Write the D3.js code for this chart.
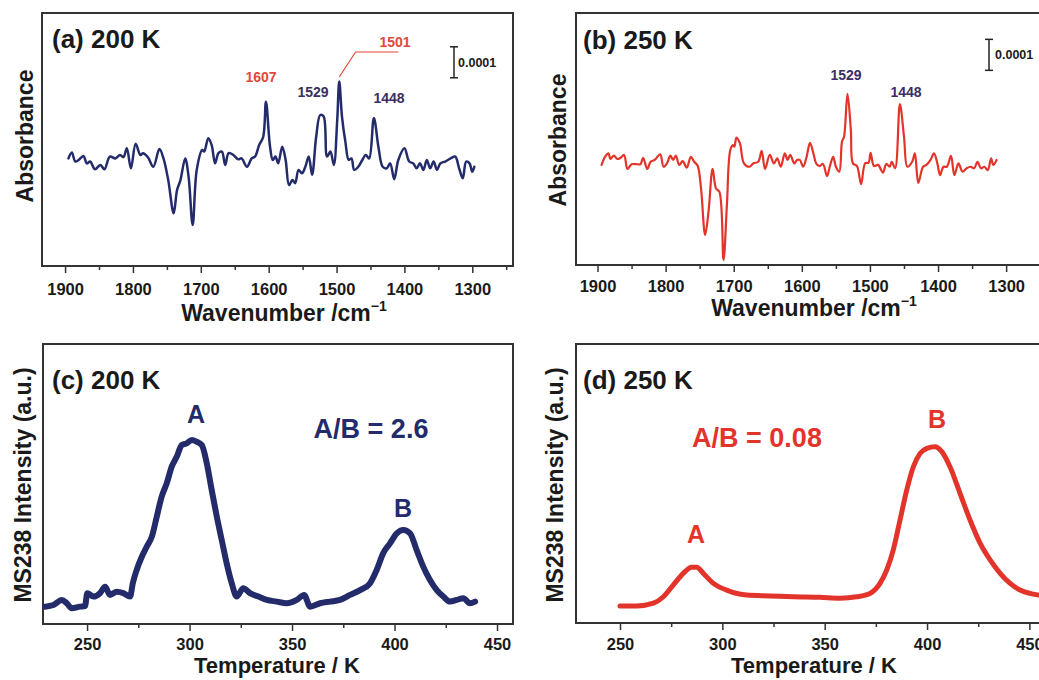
<!DOCTYPE html>
<html>
<head>
<meta charset="utf-8">
<title>IR / TPD</title>
<script src="https://d3js.org/d3.v7.min.js"></script>
<style>
  body { margin: 0; background: #fff; }
  text { font-family: "Liberation Sans", Arial, sans-serif; font-weight: bold; }
</style>
</head>
<body>
<script>
// IR difference spectra, absorbance in units of 1e-4 (baseline = 0)
var wnA = [1895,1890,1885,1880,1873,1868,1863,1856,1848,1842,1834,1826,1819,1814,1809,1803,1796,1789,1785,1778,
  1770,1761,1755,1748,1740,1735,1730,1723,1718,1712,1706,1698,1695,1689,1684,1679,1674,1669,1664,1659,
  1652,1645,1640,1632,1625,1620,1614,1608,1604,1598,1594,1590,1586,1580,1575,1570,1565,1561,1556,1551,
  1546,1541,1536,1530,1524,1519,1514,1509,1504,1499,1496,1492,1487,1482,1478,1474,1468,1462,1457,1452,
  1445,1438,1432,1426,1421,1415,1409,1400,1393,1387,1382,1377,1372,1367,1362,1357,1352,1347,1340,1332,
  1325,1320,1314,1309,1304,1300,1297];
var absA = [0.05,0.24,-0.05,0,0.13,-0.11,-0.05,-0.30,-0.16,-0.30,0.11,0.05,0.16,0.09,0.38,-0.27,0.52,0.16,0.22,0.09,
  -0.22,0.35,0.05,-0.65,-1.72,-0.97,-0.65,0.05,-0.54,-2.10,-0.32,0.32,0.27,0.70,0.48,-0.11,0.22,0.27,-0.16,0.22,
  0.16,0.02,0.05,-0.22,0.05,0.11,0.48,0.75,1.88,0.43,0,0.11,-0.11,0.43,0,-0.81,-0.65,-0.75,-0.32,-0.43,
  -0.22,0.11,-0.48,0.75,1.45,1.40,0.11,0.27,-0.16,1.29,2.53,1.40,0.59,0,0.05,-0.32,-0.22,0,0.16,0.05,
  1.35,0.38,-0.22,-0.27,-0.11,-0.62,0,0.38,-0.05,-0.11,-0.27,-0.11,-0.32,0,-0.27,-0.05,-0.32,-0.11,-0.05,0.05,
  0.11,-0.22,-0.59,-0.05,-0.11,-0.38,-0.22];

var wnB = [1894,1889,1884,1881,1876,1871,1866,1861,1856,1850,1842,1837,1833,1827,1822,1816,1808,1803,1798,1793,
  1789,1785,1780,1775,1769,1763,1758,1753,1748,1742,1737,1731,1726,1721,1715,1710,1705,1701,1699,1696,
  1691,1685,1677,1671,1664,1659,1654,1647,1641,1636,1631,1625,1621,1617,1611,1607,1603,1598,1593,1588,
  1583,1579,1574,1569,1563,1559,1554,1550,1545,1541,1538,1533,1528,1525,1519,1513,1507,1502,1499,1494,
  1488,1481,1476,1471,1468,1463,1456,1450,1445,1438,1434,1429,1422,1417,1411,1406,1401,1397,1392,1387,
  1381,1376,1370,1364,1358,1352,1347,1342,1337,1332,1327,1322,1319,1314];
var absB = [-0.06,0.20,0.31,0.13,0.24,0.13,0.17,0.26,-0.19,-0.04,-0.04,-0.04,0.17,-0.19,0.04,0.10,0.28,-0.12,-0.01,0.24,
  0.10,0.24,-0.06,0.06,-0.15,0.20,0.04,-0.09,-0.82,-2.32,-1.57,-0.19,-0.82,-0.93,-3.13,-1.35,0.42,0.58,0.53,0.82,
  0.64,-0.01,-0.12,-0.01,0.04,0.39,-0.19,0.26,-0.01,0.15,-0.12,0.31,0.10,0.26,-0.01,0.10,0.10,-0.12,0.20,0.65,
  0.31,-0.01,-0.10,-0.03,-0.42,-0.12,0.20,-0.12,-0.28,0.69,0.85,2.23,1.06,-0.01,-0.10,-0.68,-0.01,0.01,0.33,-0.10,
  -0.06,-0.31,-0.03,-0.12,0.04,-0.17,1.90,0.85,-0.12,0.04,0.31,-0.64,-0.12,-0.06,0.10,0.31,-0.01,-0.39,-0.12,-0.12,
  0.23,-0.39,-0.01,-0.28,-0.17,-0.12,-0.17,0.04,-0.17,-0.12,-0.23,0.15,-0.06,0.10];

// TPD traces, MS238 intensity (a.u.)
var tempC = [229.5,233.6,237.7,240.1,242.5,246.6,249.0,250.1,253.1,256.3,258.8,261.2,264.5,267.7,271.0,272.3,274.2,276.7,279.1,281.6,
  284.0,286.4,288.9,291.3,293.8,296.2,298.6,301.1,303.5,306.0,308.4,310.8,313.3,315.7,318.1,320.6,323.0,326.2,329.5,333.6,
  337.7,342.5,347.4,352.3,355.9,358.8,363.7,368.5,373.4,378.3,383.2,388.0,391.3,394.5,397.8,401.1,404.3,407.6,410.8,414.0,
  417.3,420.6,423.8,427.1,430.3,433.6,436.8,439.3];
var msC = [6.2,6.8,8.6,7.4,5.6,6.2,6.4,11.0,9.8,11.0,13.3,10.4,11.5,11.0,9.8,14.5,19.3,24.0,27.6,31.2,
  38.3,45.5,50.3,56.2,59.8,63.9,64.5,65.7,65.1,63.9,57.4,47.9,38.3,30.0,21.7,14.5,9.8,12.8,11.0,9.8,
  8.6,8.0,7.4,8.6,10.4,6.2,7.4,8.0,8.6,10.4,12.1,14.5,19.3,25.3,28.8,32.4,33.6,32.4,26.4,20.5,
  15.7,12.1,9.8,8.0,8.6,9.2,7.4,8.0];

var tempD = [250.0,258.2,266.3,271.2,276.0,280.9,285.0,287.5,290.7,295.6,302.1,311.9,323.3,334.7,347.7,357.5,365.6,372.1,377.0,380.3,
  383.5,386.8,390.1,393.3,396.6,399.9,403.9,407.2,411.2,416.1,421.0,425.9,430.8,435.7,440.6,445.4,450.3,454.7,458.5];
var msD = [6.1,6.1,7.1,9.4,13.6,17.8,20.0,20.0,17.8,14.2,11.8,10.0,9.7,9.4,9.2,8.9,9.4,10.6,14.2,19.0,
  26.2,36.9,47.7,56.0,60.8,62.6,63.2,61.4,56.0,46.5,36.9,28.6,22.6,17.8,14.2,11.8,10.6,10.0,9.6];

var irTicks = [1900,1800,1700,1600,1500,1400,1300];
var irMinor = [1850,1750,1650,1550,1450,1350,1250];
var tpdTicks = [250,300,350,400,450];
var tpdMinor = [275,325,375,425];

var navy = "#232b6b", red = "#e3342b", purple = "#3b2e63", redLbl = "#e0483b";

var svg = d3.select("body").append("svg").attr("width", 1039).attr("height", 680);

function panel(p) {
  var x = d3.scaleLinear().domain(p.xDomain).range([p.left, p.right]);
  var y = d3.scaleLinear().domain(p.yDomain).range([p.bottom, p.top]);
  var g = svg.append("g");

  g.append("g").attr("transform", "translate(0," + p.bottom + ")")
    .call(d3.axisBottom(x).tickValues(p.minor).tickSize(4).tickFormat(""))
    .call(function (a) { a.select(".domain").remove(); a.selectAll("line").attr("stroke", "#333").attr("stroke-width", 1.5); });

  var ax = g.append("g").attr("transform", "translate(0," + p.bottom + ")")
    .call(d3.axisBottom(x).tickValues(p.ticks).tickSize(7).tickFormat(d3.format("d")));
  ax.select(".domain").remove();
  ax.selectAll("line").attr("stroke", "#333").attr("stroke-width", 1.5);
  ax.selectAll("text").attr("y", p.tickY).attr("dy", 0)
    .attr("font-size", 16.5).attr("fill", "#1a1a1a")
    .style("font-family", "'Liberation Sans', Arial, sans-serif").style("font-weight", "bold");

  g.append("rect").attr("x", p.left).attr("y", p.top)
    .attr("width", p.right - p.left).attr("height", p.bottom - p.top)
    .attr("fill", "none").attr("stroke", "#333").attr("stroke-width", 2);

  var line = d3.line().x(function (d) { return x(d[0]); }).y(function (d) { return y(d[1]); })
    .curve(p.curve);
  g.append("path").datum(d3.zip(p.xs, p.ys)).attr("d", line)
    .attr("fill", "none").attr("stroke", p.color).attr("stroke-width", p.width)
    .attr("stroke-linejoin", "round").attr("stroke-linecap", "round");

  g.append("text").attr("x", p.label[0]).attr("y", p.label[1]).attr("font-size", 26)
    .attr("fill", "#1a1a1a").text(p.labelText);

  var xt = g.append("text").attr("x", p.xTitle[0]).attr("y", p.xTitle[1])
    .attr("text-anchor", "middle").attr("font-size", p.xTitleSize || 23).attr("fill", "#1a1a1a");
  xt.append("tspan").text(p.xTitleText);
  if (p.sup) xt.append("tspan").attr("font-size", 14).attr("dy", -10).text(p.sup);

  g.append("text").attr("transform", "translate(" + p.yTitle[0] + "," + p.yTitle[1] + ") rotate(-90)")
    .attr("text-anchor", "middle").attr("font-size", 23).attr("fill", "#1a1a1a").text(p.yTitleText);

  return { x: x, y: y, g: g };
}

function note(g, x, y, txt, size, color) {
  g.append("text").attr("x", x).attr("y", y).attr("text-anchor", "middle")
    .attr("font-size", size).attr("fill", color).text(txt);
}

// vertical bar marking 0.0001 absorbance (1 unit of the y data)
function scaleBar(pn, x, v0, tx, ty) {
  var y0 = pn.y(v0), y1 = pn.y(v0 - 1);
  pn.g.append("line").attr("x1", x).attr("x2", x).attr("y1", y0).attr("y2", y1).attr("stroke", "#222").attr("stroke-width", 1.5);
  [y0, y1].forEach(function (yy) {
    pn.g.append("line").attr("x1", x - 4).attr("x2", x + 4).attr("y1", yy).attr("y2", yy).attr("stroke", "#222").attr("stroke-width", 1.5);
  });
  pn.g.append("text").attr("x", tx).attr("y", ty).attr("font-size", 12.5).attr("fill", "#1a1a1a").text("0.0001");
}

var smooth = d3.curveCatmullRom.alpha(0.5);

// (a)
var pa = panel({
  left: 42, right: 513, top: 13, bottom: 266,
  xDomain: [1934, 1240], yDomain: [-3.42, 4.74],
  ticks: irTicks, minor: irMinor, tickY: 29,
  xs: wnA, ys: absA, color: navy, width: 2.5, curve: smooth,
  label: [52, 48], labelText: "(a) 200 K",
  xTitle: [284, 321], xTitleText: "Wavenumber /cm", sup: "\u22121",
  yTitle: [33, 136], yTitleText: "Absorbance"
});
note(pa.g, 261, 81.5, "1607", 14, redLbl);
note(pa.g, 313, 96.5, "1529", 14, purple);
note(pa.g, 389, 103, "1448", 14, purple);
note(pa.g, 395, 46.5, "1501", 14, redLbl);
pa.g.append("polyline").attr("points", [[pa.x(1496), 77], [pa.x(1472), 52], [pa.x(1409), 52]].join(" "))
  .attr("fill", "none").attr("stroke", redLbl).attr("stroke-width", 1.2);
scaleBar(pa, 454, 3.65, 458, 67);

// (b)
var pb = panel({
  left: 576, right: 1047, top: 13, bottom: 265,
  xDomain: [1931.6, 1240], yDomain: [-3.29, 4.84],
  ticks: irTicks, minor: irMinor, tickY: 27,
  xs: wnB, ys: absB, color: red, width: 2.2, curve: smooth,
  label: [583, 49], labelText: "(b) 250 K",
  xTitle: [814, 316], xTitleText: "Wavenumber /cm", sup: "\u22121",
  yTitle: [566, 140], yTitleText: "Absorbance"
});
note(pb.g, 846, 80, "1529", 14, purple);
note(pb.g, 906, 97, "1448", 14, purple);
scaleBar(pb, 989, 3.99, 995, 59);

// (c)
var pc = panel({
  left: 43, right: 513, top: 344, bottom: 624,
  xDomain: [228.5, 457.8], yDomain: [0, 100],
  ticks: tpdTicks, minor: tpdMinor, tickY: 26,
  xs: tempC, ys: msC, color: navy, width: 6, curve: d3.curveMonotoneX,
  label: [52, 389], labelText: "(c) 200 K",
  xTitle: [277, 673], xTitleText: "Temperature / K", xTitleSize: 22,
  yTitle: [31, 485], yTitleText: "MS238 Intensity (a.u.)"
});
note(pc.g, 196, 423, "A", 25, navy);
note(pc.g, 403, 516.5, "B", 25, navy);
note(pc.g, 371, 438, "A/B = 2.6", 27, navy);

// (d)
var pd = panel({
  left: 576, right: 1047, top: 344, bottom: 623,
  xDomain: [228.5, 458.6], yDomain: [0, 100],
  ticks: tpdTicks, minor: tpdMinor, tickY: 27,
  xs: tempD, ys: msD, color: red, width: 5, curve: d3.curveMonotoneX,
  label: [583, 389], labelText: "(d) 250 K",
  xTitle: [814, 673], xTitleText: "Temperature / K", xTitleSize: 22,
  yTitle: [563, 485], yTitleText: "MS238 Intensity (a.u.)"
});
note(pd.g, 696, 543, "A", 25, red);
note(pd.g, 937, 428, "B", 25, red);
note(pd.g, 757, 446.5, "A/B = 0.08", 27, red);
</script>
</body>
</html>
